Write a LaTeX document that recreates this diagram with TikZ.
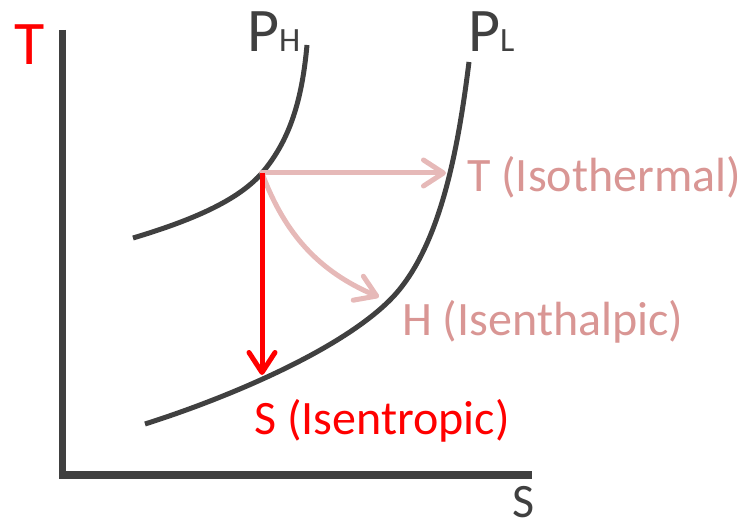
\documentclass[tikz,border=0pt]{standalone}
\usepackage{fontspec}
\setmainfont{Carlito}
\usetikzlibrary{arrows.meta}
\definecolor{axisgray}{HTML}{404040}
\definecolor{pinkarrow}{HTML}{E6B9B8}
\definecolor{pinktext}{HTML}{D99694}
\definecolor{pured}{HTML}{FF0000}
\tikzset{
  axisline/.style={draw=axisgray, line width=7pt, line join=miter},
  isobar/.style={draw=axisgray, line width=5pt},
  procarrow/.style={line width=5pt, line cap=round, line join=round,
    -{Straight Barb[length=20pt,width=26pt,line cap=round,line join=round]}},
  biglabel/.style={inner sep=0pt, anchor=base west, font=\fontsize{48}{48}\selectfont},
  axislabel/.style={inner sep=0pt, font=\fontsize{62}{62}\selectfont}
}
\begin{document}
\begin{tikzpicture}[x=1pt,y=-1pt]
\useasboundingbox (0,0) rectangle (745,521);
% axes
\coordinate (ytop) at (62,30);
\coordinate (orig) at (62,475);
\coordinate (xend) at (532,475);
\draw[axisline] (ytop) -- (orig) -- (xend);
\node[axislabel, text=pured, anchor=base] (tlab) at (30,65) {T};
\node[inner sep=0pt, anchor=base west, text=axisgray, font=\fontsize{48}{48}\selectfont] (slab) at (512,517) {S};
% isobars
\draw[isobar] (133,238) .. controls (200,218) and (240,198) .. (262,173)
  .. controls (290,140) and (302,100) .. (307,45);
\draw[isobar] (145,424) .. controls (230,397) and (340,350) .. (390,300)
  .. controls (440,250) and (458,150) .. (469,62);
\node[inner sep=0pt, anchor=base west, text=axisgray] (ph) at (247,52) {{\fontsize{62}{62}\selectfont P}{\fontsize{34}{34}\selectfont H}};
\node[inner sep=0pt, anchor=base west, text=axisgray] (pl) at (468,52) {{\fontsize{62}{62}\selectfont P}{\fontsize{34}{34}\selectfont L}};
% process points
\coordinate (A) at (262,173);
\coordinate (B) at (262,375);
\coordinate (C) at (446,173);
\coordinate (D) at (379,297);
\draw[procarrow, draw=pinkarrow] (A) -- (C);
\draw[procarrow, draw=pinkarrow] (A) .. controls (285,235) and (320,272) .. (D);
\draw[procarrow, draw=pured, line cap=butt] (A) -- (B);
% labels
\node[biglabel, text=pinktext] (tiso) at (467,192) {T (Isothermal)};
\node[biglabel, text=pinktext] (hiso) at (402,336) {H (Isenthalpic)};
\node[biglabel, text=pured] (siso) at (254,435) {S (Isentropic)};
\end{tikzpicture}
\end{document}
